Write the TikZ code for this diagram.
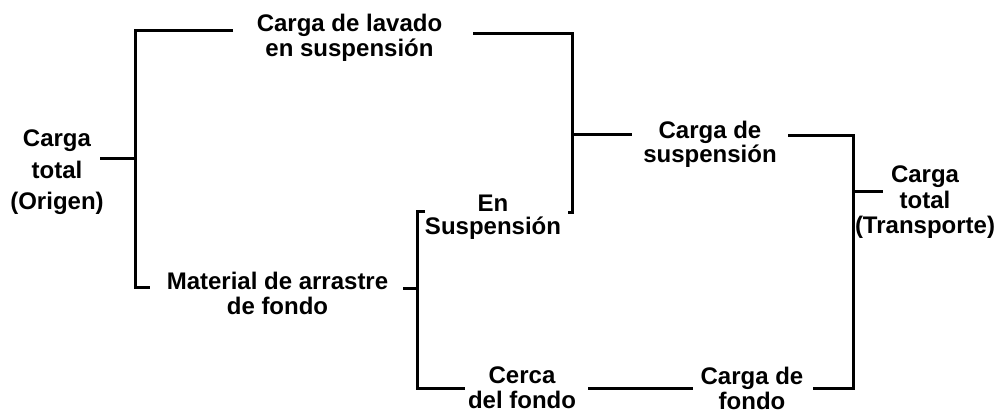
\documentclass[tikz,border=0pt]{standalone}
\usepackage{fontspec}
\setmainfont{Liberation Sans}
\usepackage{tikz}

\begin{document}
\begin{tikzpicture}[x=1pt,y=-1pt,line width=3pt,
        lbl/.style={align=center,inner sep=0pt,font=\fontsize{24}{#1}\selectfont\bfseries},
        lbl/.default=25]
        \useasboundingbox (0,0) rectangle (1003,413);
        % labels
        \node[lbl=31.5] (origen) at (57,172.5) {Carga\\total\\(Origen)};
        \node[lbl] (lavado) at (349.5,37.5) {Carga de lavado\\en suspensi\'on};
        \node[lbl] (arrastre) at (277.5,293) {Material de arrastre\\de fondo};
        \node[lbl=23] (ensusp) at (493,217) {En\\Suspensi\'on};
        \node[lbl] (cerca) at (522,388) {Cerca\\del fondo};
        \node[lbl=24] (csusp) at (710,144.5) {Carga de\\suspensi\'on};
        \node[lbl] (cfondo) at (752,388) {Carga de\\fondo};
        \node[lbl=25.5] (transp) at (925,202.5) {Carga\\total\\(Transporte)};
        % bracket ends
        \coordinate (o1) at (100,158);
        \coordinate (o2) at (135,158);
        \coordinate (l1) at (233,30);
        \coordinate (l2) at (473,33);
        \coordinate (m1) at (150,287);
        \coordinate (m2) at (403,288);
        \coordinate (m3) at (417,288);
        \coordinate (e1) at (425,211);
        \coordinate (e2) at (568,212);
        \coordinate (s1) at (572,134);
        \coordinate (s2) at (632,134);
        \coordinate (s3) at (788,135);
        \coordinate (c1) at (465,388);
        \coordinate (c2) at (588,388);
        \coordinate (c3) at (693,388);
        \coordinate (f1) at (813,388);
        \coordinate (t1) at (853,191);
        \coordinate (t2) at (883,191);
        % brackets
        \draw (o1) -- (o2);
        \draw (l1) -| (m1 -| o2) -- (m1);
        \draw (l2) -| (e2 -| s1) -- (e2);
        \draw (s1) -- (s2);
        \draw (s3) -| (f1 -| t1) -- (f1);
        \draw (t1) -- (t2);
        \draw (e1) -| (c1 -| m3) -- (c1);
        \draw (m2) -- (m3);
        \draw (c2) -- (c3);
\end{tikzpicture}
\end{document}
